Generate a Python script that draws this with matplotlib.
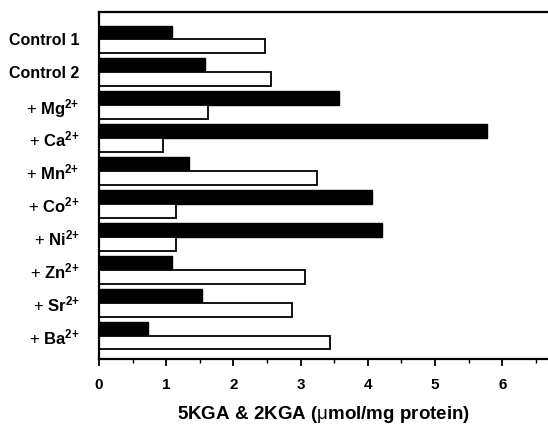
import matplotlib
matplotlib.use("Agg")
import matplotlib.pyplot as plt
from matplotlib.ticker import MultipleLocator
import numpy as np

plt.rcParams['font.family'] = ['Liberation Sans', 'DejaVu Sans']
plt.rcParams['mathtext.fontset'] = 'custom'
plt.rcParams['mathtext.rm'] = 'Liberation Sans'
plt.rcParams['mathtext.bf'] = 'Liberation Sans:bold'
plt.rcParams['mathtext.it'] = 'Liberation Sans:italic'

categories = ["Control 1", "Control 2",
              r"+ $\mathbf{Mg}^{\mathbf{2{+}}}$", r"+ $\mathbf{Ca}^{\mathbf{2{+}}}$",
              r"+ $\mathbf{Mn}^{\mathbf{2{+}}}$", r"+ $\mathbf{Co}^{\mathbf{2{+}}}$",
              r"+ $\mathbf{Ni}^{\mathbf{2{+}}}$", r"+ $\mathbf{Zn}^{\mathbf{2{+}}}$",
              r"+ $\mathbf{Sr}^{\mathbf{2{+}}}$", r"+ $\mathbf{Ba}^{\mathbf{2{+}}}$"]
kga5 = [1.09, 1.58, 3.57, 5.77, 1.34, 4.06, 4.21, 1.09, 1.53, 0.73]
kga2 = [2.47, 2.56, 1.62, 0.95, 3.24, 1.15, 1.15, 3.07, 2.87, 3.44]
xticks = [0, 1, 2, 3, 4, 5, 6]

fig = plt.figure(figsize=(5.48, 4.29), dpi=100)
ax = fig.add_axes([99/548, 1 - 359/429, 1 - 99/548, (359 - 12)/429])

y = np.arange(len(categories))
h = 0.425
ax.barh(y - h/2, kga5, height=h, color='black', edgecolor='black', linewidth=1.0)
ax.barh(y + h/2, kga2, height=h, color='white', edgecolor='black', linewidth=1.3)

ax.set_ylim(9.714, -0.836)
ax.set_xlim(0, 6.68)
ax.set_yticks(y)
ax.set_yticklabels(categories, fontsize=12)
for i, lab in enumerate(ax.get_yticklabels()):
    if i < 2:
        lab.set_fontweight('bold')
        lab.set_fontsize(11.5)
ax.tick_params(axis='y', length=0, pad=14)

ax.set_xticks(xticks)
ax.set_xticklabels([str(v) for v in xticks], fontsize=11, fontweight='bold')
ax.xaxis.set_minor_locator(MultipleLocator(0.5))
ax.tick_params(axis='x', which='major', direction='out', length=5, width=1.3, pad=9)
ax.tick_params(axis='x', which='minor', direction='out', length=3, width=1.0)

ax.set_xlabel(r"5KGA & 2KGA ($\mathrm{\mu}$mol/mg protein)", fontsize=13.5, fontweight='bold', labelpad=8)

ax.spines['right'].set_visible(False)
for s in ['left', 'bottom', 'top']:
    ax.spines[s].set_linewidth(1.6)

fig.savefig("out.png", dpi=100)
